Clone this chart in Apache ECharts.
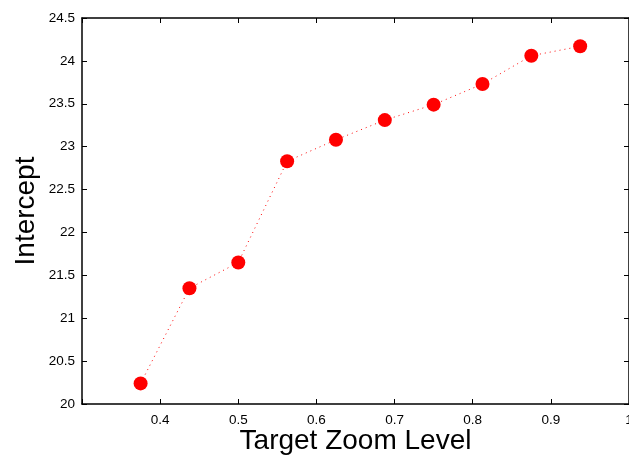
<!DOCTYPE html>
<html>
<head>
<meta charset="utf-8">
<script src="https://cdn.jsdelivr.net/npm/echarts@6/dist/echarts.min.js"></script>
<style>
  html, body { margin: 0; padding: 0; background: #fff; }
  #chart { width: 629px; height: 457px; }
</style>
</head>
<body>
<div id="chart"></div>
<script>
// zoom levels and fitted intercepts
const zoomLevels = [0.375, 0.4375, 0.5, 0.5625, 0.625, 0.6875, 0.75, 0.8125, 0.875, 0.9375]
const intercepts = [20.24, 21.35, 21.65, 22.83, 23.08, 23.31, 23.49, 23.73, 24.06, 24.17]

const font = 'Liberation Sans, Arial, Helvetica, sans-serif'
const axisLine = { show: true, lineStyle: { color: '#000', width: 1.5 } }
const axisTick = { show: true, inside: true, length: 5, lineStyle: { color: '#000' } }

const chart = echarts.init(document.getElementById('chart'))

const option = {
    animation: false,
    grid: { left: 82, top: 18, right: 0, bottom: 53, outerBoundsMode: 'none' },
    xAxis: [
        {
            type: 'value', min: 0.3, max: 1.0, interval: 0.1,
            axisLine, axisTick, splitLine: { show: false },
            axisLabel: {
                color: '#000', fontSize: 13.5, fontFamily: font, margin: 9,
                formatter: v => (Math.abs(v - 0.3) < 1e-9 ? '' : String(+v.toFixed(1)))
            },
            name: 'Target Zoom Level', nameLocation: 'middle', nameGap: 23, nameMoveOverlap: false,
            nameTextStyle: { color: '#000', fontSize: 28, fontFamily: font }
        },
        {
            type: 'value', position: 'top', min: 0.3, max: 1.0, interval: 0.1,
            axisLine, axisTick, axisLabel: { show: false }, splitLine: { show: false }
        }
    ],
    yAxis: [
        {
            type: 'value', min: 20, max: 24.5, interval: 0.5,
            axisLine, axisTick, splitLine: { show: false },
            axisLabel: { color: '#000', fontSize: 13.5, fontFamily: font, margin: 7 },
            name: 'Intercept', nameLocation: 'middle', nameGap: 42, nameRotate: 90, nameMoveOverlap: false,
            nameTextStyle: { color: '#000', fontSize: 28, fontFamily: font }
        },
        {
            type: 'value', position: 'right', min: 20, max: 24.5, interval: 0.5,
            axisLine, axisTick, axisLabel: { show: false }, splitLine: { show: false }
        }
    ],
    series: [
        {
            type: 'line',
            data: zoomLevels.map((x, i) => [x, intercepts[i]]),
            symbol: 'circle', symbolSize: 14,
            itemStyle: { color: '#ff0000' },
            lineStyle: { color: '#ff0000', width: 1, type: [1, 4] }
        }
    ]
}

chart.setOption(option)
</script>
</body>
</html>
